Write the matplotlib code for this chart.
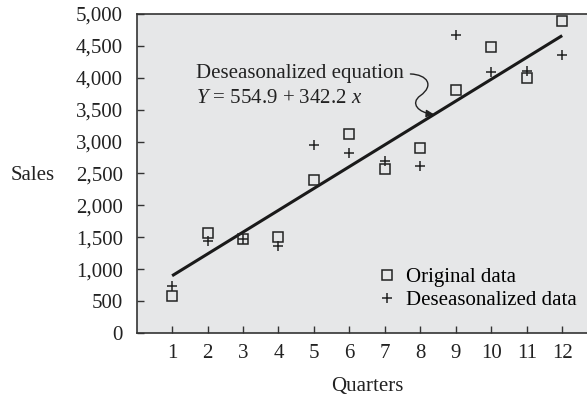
import matplotlib
matplotlib.use('Agg')
from matplotlib import pyplot as plt
from matplotlib.path import Path
from matplotlib.patches import FancyArrowPatch
from matplotlib.ticker import FuncFormatter

plt.rcParams['font.family'] = ['Liberation Serif', 'DejaVu Serif']
plt.rcParams['mathtext.fontset'] = 'custom'
plt.rcParams['mathtext.rm'] = 'Liberation Serif'
plt.rcParams['mathtext.it'] = 'Liberation Serif:italic'

quarters = [1, 2, 3, 4, 5, 6, 7, 8, 9, 10, 11, 12]
original = [580, 1570, 1470, 1510, 2400, 3120, 2570, 2900, 3810, 4490, 3990, 4890]
deseason = [740, 1440, 1480, 1360, 2940, 2820, 2700, 2620, 4670, 4090, 4110, 4360]
intercept = 554.9
slope = 342.2
fit = [intercept + slope * q for q in quarters]

fig = plt.figure(figsize=(5.87, 4.0), dpi=100)
ax = fig.add_axes([0.2334, 0.1675, 0.7666, 0.7975])
ax.set_facecolor('#e6e7e8')

ax.plot(quarters, fit, color='#1a1a1a', lw=2.2, solid_capstyle='butt', zorder=2)
ax.plot(quarters, original, ls='none', marker='s', ms=6.5, mfc='none',
        mec='#222222', mew=1.1, label='Original data', zorder=3)
ax.plot(quarters, deseason, ls='none', marker='+', ms=7, mec='#222222',
        mew=1.1, label='Deseasonalized data', zorder=3)

ax.set_xlim(0.01, 12.7)
ax.set_ylim(0, 5000)
ax.set_xticks(quarters)
ax.set_yticks(range(0, 5001, 500))
ax.yaxis.set_major_formatter(FuncFormatter(lambda v, p: f'{int(v):,}'))
ax.tick_params(direction='in', length=5, width=1, color='#333333',
               labelsize=15, labelcolor='#222222')
ax.tick_params(axis='y', pad=10)
ax.tick_params(axis='x', pad=8)

for s in ['left', 'bottom', 'top']:
    ax.spines[s].set_color('#333333')
    ax.spines[s].set_linewidth(1.2)
ax.spines['right'].set_visible(False)

ax.set_ylabel('Sales', rotation=0, ha='right', va='center', fontsize=15, color='#222222')
ax.yaxis.set_label_coords(-0.182, 0.495)
ax.set_xlabel('Quarters', fontsize=15, color='#222222', va='center')
ax.xaxis.set_label_coords(0.511, -0.169)

ax.text(1.67, 4070, 'Deseasonalized equation', fontsize=15, color='#222222',
        va='center', ha='left')
ax.text(1.67, 3680, '$Y$ = 554.9 + 342.2 $x$', fontsize=15, color='#222222',
        va='center', ha='left')

curve = Path([(7.72, 4060), (8.2, 4050), (8.4, 3880), (8.0, 3720),
              (7.7, 3600), (7.95, 3450), (8.38, 3430)],
             [Path.MOVETO, Path.CURVE4, Path.CURVE4, Path.CURVE4,
              Path.CURVE4, Path.CURVE4, Path.CURVE4])
arrow = FancyArrowPatch(path=curve, arrowstyle='-|>', mutation_scale=11,
                        lw=1.0, color='#222222', transform=ax.transData)
ax.add_patch(arrow)

ax.legend(loc='lower right', bbox_to_anchor=(1.0, 0.04), frameon=False,
          fontsize=15, handlelength=0.8, handletextpad=0.5, labelspacing=0.15,
          borderaxespad=0.1)

fig.savefig('out.png', dpi=100)
